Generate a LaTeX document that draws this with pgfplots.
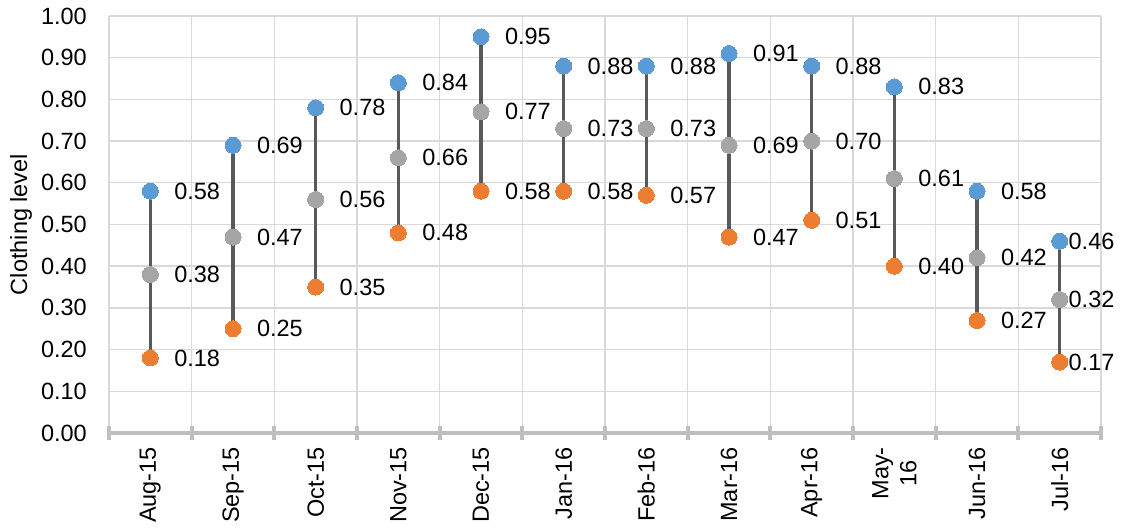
\documentclass[border=0pt]{standalone}
\usepackage{pgfplots}
\pgfplotsset{compat=1.18}
\usepackage{pgfplotstable}
\usepackage{fontspec}
\setmainfont{Liberation Sans}

\definecolor{maxblue}{HTML}{5B9BD5}
\definecolor{meangray}{HTML}{A5A5A5}
\definecolor{minorange}{HTML}{ED7D31}
\definecolor{stem}{HTML}{595959}
\definecolor{gridgray}{HTML}{D9D9D9}
\definecolor{axisgray}{HTML}{BFBFBF}

% monthly clothing level: maximum, mean, minimum; dx = label offset
\pgfplotstableread{
x  hi   mean lo   dx
0  0.58 0.38 0.18 24
1  0.69 0.47 0.25 24
2  0.78 0.56 0.35 24
3  0.84 0.66 0.48 24
4  0.95 0.77 0.58 24
5  0.88 0.73 0.58 24
6  0.88 0.73 0.57 24
7  0.91 0.69 0.47 24
8  0.88 0.70 0.51 24
9  0.83 0.61 0.40 24
10 0.58 0.42 0.27 24
11 0.46 0.32 0.17 9
}\clothing

\pgfplotsset{
  dot/.style={only marks, mark=*, mark size=8pt,
    mark options={draw=#1, fill=#1, line width=0pt},
    point meta=explicit,
    nodes near coords={\pgfmathprintnumber[fixed, fixed zerofill, precision=2]{\pgfplotspointmeta}},
    nodes near coords style={font=\fontsize{23.5}{28}\selectfont, text=black,
      anchor=west, inner sep=0pt, xshift=\dx pt},
    visualization depends on={\thisrow{dx} \as \dx},
  },
}

\begin{document}
\begin{tikzpicture}
\path[use as bounding box] (-109pt,-97pt) rectangle (1013pt,433pt);
\begin{axis}[
  at={(0pt,0pt)}, anchor=south west,
  width=992pt, height=417pt, scale only axis,
  xmin=-0.5, xmax=11.5, ymin=0, ymax=1,
  font=\fontsize{23.5}{28}\selectfont,
  axis x line*=bottom, axis y line*=left,
  x axis line style={axisgray, line width=4pt, -},
  y axis line style={draw=none},
  xtick={0,...,11},
  xticklabels={Aug-15,Sep-15,Oct-15,Nov-15,Dec-15,Jan-16,Feb-16,Mar-16,Apr-16,{May-\\16},Jun-16,Jul-16},
  minor xtick={-0.5,0.5,1.5,2.5,3.5,4.5,5.5,6.5,7.5,8.5,9.5,10.5,11.5},
  ytick={0,0.1,0.2,0.3,0.4,0.5,0.6,0.7,0.8,0.9,1.0},
  yticklabel style={/pgf/number format/fixed, /pgf/number format/fixed zerofill,
    /pgf/number format/precision=2, inner sep=0pt, anchor=east, xshift=-22pt},
  xticklabel style={yshift=-14pt, rotate=90, anchor=east, inner sep=0pt, align=center},
  /pgf/number format/assume math mode=true,
  major tick length=0pt, minor tick length=14pt, tick align=center,
  minor x tick style={axisgray, line width=4pt},
  ymajorgrids, xminorgrids,
  grid style={gridgray, line width=1.4pt},
  minor grid style={gridgray, line width=1.4pt},
  ylabel={Clothing level},
  ylabel style={at={(axis description cs:-0.0887,0.5)}, anchor=center},
  clip=false,
]
% stems from minimum to maximum
\addplot[draw=none, mark=none, forget plot,
  error bars/.cd, y dir=plus, y explicit,
  error bar style={stem, line width=3.5pt}, error mark=none]
  table[x=x, y=lo, y error expr=\thisrow{hi}-\thisrow{lo}] {\clothing};
% maximum
\addplot[dot=maxblue] table[x=x, y=hi, meta=hi] {\clothing};
% mean
\addplot[dot=meangray] table[x=x, y=mean, meta=mean] {\clothing};
% minimum
\addplot[dot=minorange] table[x=x, y=lo, meta=lo] {\clothing};
\end{axis}
\end{tikzpicture}
\end{document}
